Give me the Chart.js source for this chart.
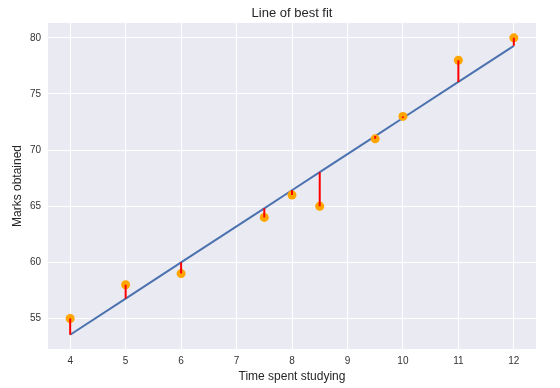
<!DOCTYPE html>
<html>
<head>
<meta charset="utf-8">
<script src="https://cdn.jsdelivr.net/npm/chart.js@4/dist/chart.umd.min.js"></script>
<style>
  html, body { margin: 0; padding: 0; background: #fff; }
  #wrap { width: 560px; height: 388px; position: relative; }
</style>
</head>
<body>
<div id="wrap"><canvas id="myChart"></canvas></div>
<script>
// dados
var hours = [4, 5, 6, 7.5, 8, 8.5, 9.5, 10, 11, 12];
var marks = [55, 58, 59, 64, 66, 65, 71, 73, 78, 80];
// valores da reta
var fitted = [53.55, 56.77, 59.99, 64.81, 66.42, 68.03, 71.25, 72.86, 76.07, 79.29];
var xTicks = [4, 5, 6, 7, 8, 9, 10, 11, 12];
var yTicks = [55, 60, 65, 70, 75, 80];

var points = hours.map(function (x, i) { return { x: x, y: marks[i] }; });
var line = hours.map(function (x, i) { return { x: x, y: fitted[i] }; });
var residuals = [];
hours.forEach(function (x, i) {
  residuals.push({ x: x, y: marks[i] });
  residuals.push({ x: x, y: fitted[i] });
  residuals.push({ x: x, y: null });
});

// fundo cinza do seaborn
var plotBg = {
  id: 'plotBg',
  beforeDraw: function (chart) {
    var a = chart.chartArea, ctx = chart.ctx;
    ctx.save();
    ctx.fillStyle = '#eaeaf2';
    ctx.fillRect(a.left, a.top, a.right - a.left, a.bottom - a.top);
    ctx.restore();
  }
};

var font = 'Arial, "Liberation Sans", sans-serif';

const config = {
  type: 'line',
  data: {
    datasets: [
      {
        label: 'residuals',
        data: residuals,
        borderColor: '#ff0000',
        borderWidth: 2,
        pointRadius: 0,
        spanGaps: false,
        order: 0
      },
      {
        label: 'points',
        data: points,
        showLine: false,
        pointRadius: 4.5,
        pointBackgroundColor: '#ffa500',
        pointBorderWidth: 0,
        order: 1
      },
      {
        label: 'fit',
        data: line,
        borderColor: '#4c72b0',
        borderWidth: 2,
        pointRadius: 0,
        order: 2
      }
    ]
  },
  options: {
    responsive: true,
    maintainAspectRatio: false,
    animation: false,
    layout: { padding: { left: 0, right: 24, top: 0, bottom: 0 } },
    plugins: {
      legend: { display: false },
      tooltip: { enabled: false },
      title: {
        display: true,
        text: 'Line of best fit',
        fullSize: false,
        color: '#262626',
        font: { family: font, size: 13, weight: 'normal' },
        padding: { top: 6, bottom: 1.4 }
      }
    },
    scales: {
      x: {
        type: 'linear',
        min: 3.6,
        max: 12.4,
        afterBuildTicks: function (s) { s.ticks = xTicks.map(function (v) { return { value: v }; }); },
        afterFit: function (s) { s.height = 39; },
        grid: { color: '#ffffff', lineWidth: 1, drawTicks: false },
        border: { display: false },
        ticks: { color: '#333', padding: 6, font: { family: font, size: 10 } },
        title: {
          display: true,
          text: 'Time spent studying',
          color: '#262626',
          font: { family: font, size: 12 },
          padding: { top: 0, bottom: 4 }
        }
      },
      y: {
        min: 52.28,
        max: 81.32,
        afterBuildTicks: function (s) { s.ticks = yTicks.map(function (v) { return { value: v }; }); },
        afterFit: function (s) { s.width = 48; },
        grid: { color: '#ffffff', lineWidth: 1, drawTicks: false },
        border: { display: false },
        ticks: { color: '#333', padding: 7, font: { family: font, size: 10 } },
        title: {
          display: true,
          text: 'Marks obtained',
          color: '#262626',
          font: { family: font, size: 12 },
          padding: { top: 10, bottom: 0 }
        }
      }
    }
  },
  plugins: [plotBg]
};

var myChart = new Chart(document.getElementById('myChart'), config);
</script>
</body>
</html>
